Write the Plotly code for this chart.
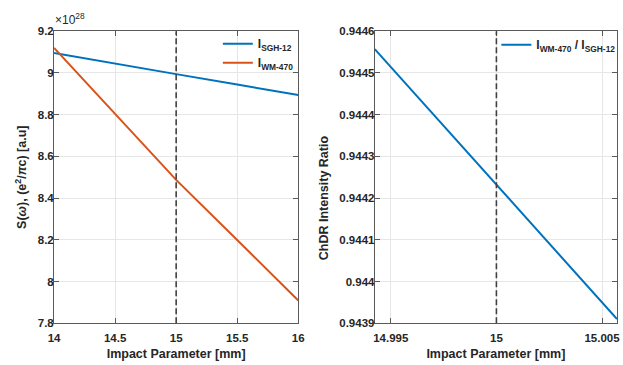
import plotly.graph_objects as go

# ---- data ----
impact_left = [14.0, 14.5, 15.0, 15.5, 16.0]
i_sgh12_e28 = [9.095, 9.046, 8.994, 8.944, 8.894]
i_wm470_e28 = [9.120, 8.802, 8.487, 8.199, 7.909]

impact_right = [14.99424, 15.0, 15.00571]
ratio_wm_sgh = [0.944557, 0.944231, 0.943910]

ref_x = 15.0

left_yticks = [7.8, 8.0, 8.2, 8.4, 8.6, 8.8, 9.0, 9.2]
left_ytext = ["7.8", "8", "8.2", "8.4", "8.6", "8.8", "9", "9.2"]
left_xticks = [14, 14.5, 15, 15.5, 16]
left_xtext = ["14", "14.5", "15", "15.5", "16"]
right_yticks = [0.9439, 0.9440, 0.9441, 0.9442, 0.9443, 0.9444, 0.9445, 0.9446]
right_ytext = ["0.9439", "0.944", "0.9441", "0.9442", "0.9443", "0.9444", "0.9445", "0.9446"]
right_xticks = [14.995, 15.0, 15.005]
right_xtext = ["14.995", "15", "15.005"]

BLUE = "#0072BD"
ORANGE = "#D95319"
FRAME = "#5a5a5a"
TXT = "#262626"
FONT = "Liberation Sans"

fig = go.Figure()
fig.add_trace(go.Scatter(x=impact_left, y=i_sgh12_e28, mode="lines",
                         line=dict(color=BLUE, width=2),
                         name="<b>I<sub>SGH-12</sub></b>", xaxis="x", yaxis="y",
                         legend="legend"))
fig.add_trace(go.Scatter(x=impact_left, y=i_wm470_e28, mode="lines",
                         line=dict(color=ORANGE, width=2),
                         name="<b>I<sub>WM-470</sub></b>", xaxis="x", yaxis="y",
                         legend="legend"))
fig.add_trace(go.Scatter(x=impact_right, y=ratio_wm_sgh, mode="lines",
                         line=dict(color=BLUE, width=2),
                         name="<b>I<sub>WM-470</sub> / I<sub>SGH-12</sub></b>",
                         xaxis="x2", yaxis="y2", legend="legend2"))

# reference dashed lines
for xr, yr in (("x", "y domain"), ("x2", "y2 domain")):
    fig.add_shape(type="line", xref=xr, yref=yr, x0=ref_x, x1=ref_x, y0=0, y1=1,
                  line=dict(color="#404040", width=1.6, dash="6px,3px"))

W, H = 623, 365
top = 1 - 26 / H
bot = 1 - 328 / H

axis_common = dict(showline=True, linecolor=FRAME, linewidth=1, mirror="ticks",
                   ticks="inside", ticklen=5, tickcolor=FRAME,
                   showgrid=True, gridcolor="#e6e6e6", gridwidth=1, zeroline=False,
                   tickfont=dict(family=FONT, size=11.5, color=TXT, weight="bold"))
title_font = dict(family=FONT, size=12.5, color=TXT, weight="bold")

fig.update_layout(
    width=W, height=H,
    margin=dict(l=0, r=0, t=0, b=0),
    paper_bgcolor="white", plot_bgcolor="white",
    showlegend=True,
    xaxis=dict(domain=[49 / W, 298 / W], range=[14, 16], tickvals=left_xticks,
               ticktext=left_xtext, anchor="y", ticklabelstandoff=4,
               title=dict(text="Impact Parameter [mm]", standoff=6, font=title_font),
               **axis_common),
    yaxis=dict(domain=[bot, top], range=[7.8, 9.2], tickvals=left_yticks,
               ticktext=left_ytext, anchor="x", ticklabelstandoff=-3,
               title=dict(text="S(<i>ω</i>), (e<sup>2</sup>/<i>π</i>c) [a.u]", standoff=8,
                          font=title_font),
               **axis_common),
    xaxis2=dict(domain=[376 / W, 1.0], range=[14.99424, 15.00571], tickvals=right_xticks,
                ticktext=right_xtext, anchor="y2", ticklabelstandoff=4,
                title=dict(text="Impact Parameter [mm]", standoff=6, font=title_font),
                **axis_common),
    yaxis2=dict(domain=[bot, top], range=[0.9439, 0.9446], tickvals=right_yticks,
                ticktext=right_ytext, anchor="x2", ticklabelstandoff=-3,
                **axis_common),
    legend=dict(x=216 / W, y=1 - 24 / H, xanchor="left", yanchor="top",
                bgcolor="rgba(255,255,255,0)", borderwidth=0,
                font=dict(family=FONT, size=12, color=TXT),
                itemwidth=30, tracegroupgap=0),
    legend2=dict(x=500 / W, y=1 - 25 / H, xanchor="left", yanchor="top",
                 bgcolor="rgba(255,255,255,0)", borderwidth=0,
                 font=dict(family=FONT, size=12, color=TXT),
                 itemwidth=30),
    annotations=[
        dict(text="×10<sup>28</sup>", xref="paper", yref="paper",
             x=48 / W, y=1 - 24 / H, xanchor="left", yanchor="bottom",
             showarrow=False, font=dict(family=FONT, size=12, color=TXT)),
        dict(text="ChDR Intensity Ratio", xref="paper", yref="paper",
             x=325 / W, y=1 - 198 / H, xanchor="center", yanchor="middle",
             textangle=-90, showarrow=False, font=title_font),
    ],
)

fig.write_html("out.html")
